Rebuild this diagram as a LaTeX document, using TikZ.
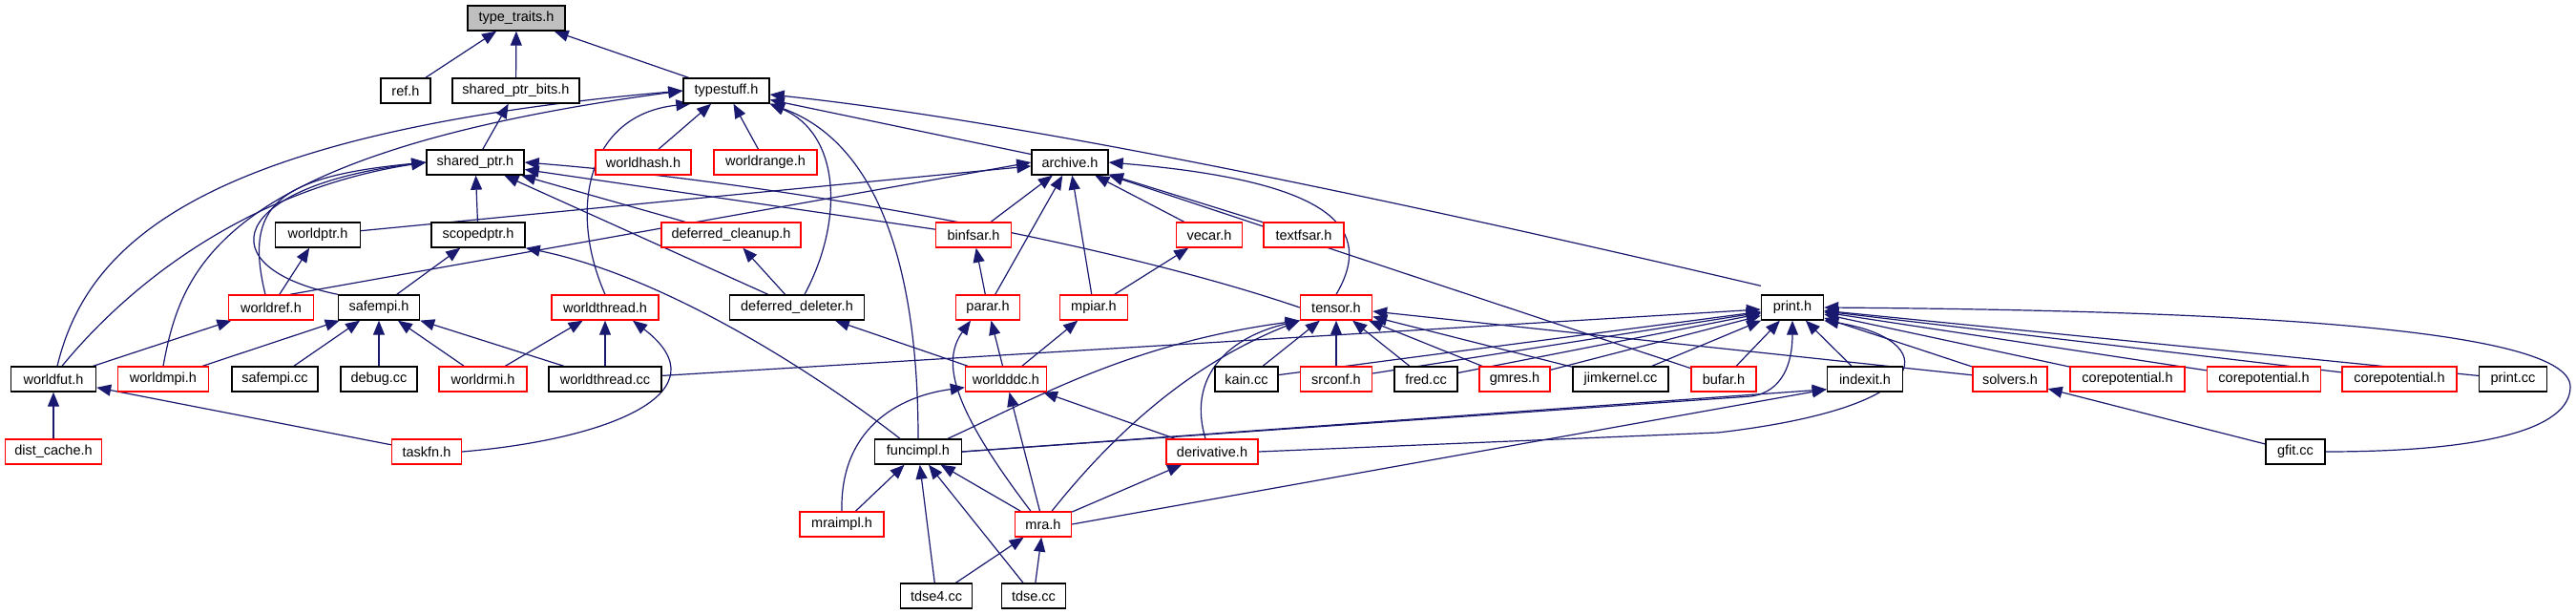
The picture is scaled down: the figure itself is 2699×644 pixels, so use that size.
\documentclass[tikz,border=0pt]{standalone}
\usepackage{fontspec}
\setmainfont{Liberation Sans}
\usetikzlibrary{arrows.meta}
\definecolor{edgeblue}{HTML}{191970}
\definecolor{nodered}{HTML}{FF0000}
\definecolor{ttgrey}{HTML}{BFBFBF}
\pgfdeclarelayer{bglayer}
\pgfdeclarelayer{edgelayer}
\pgfsetlayers{bglayer,edgelayer,main}
\begin{document}
\begin{tikzpicture}[x=1pt,y=-1pt,
  fbox/.style={draw=black, line width=1.4pt, minimum height=26pt, inner sep=0pt, font=\fontsize{14.5}{16}\selectfont, fill=white},
  rbox/.style={fbox, draw=nodered},
  conn/.style={draw=edgeblue, line width=1.2pt, -{Triangle[length=15pt,width=12pt]}},
]
\begin{pgfonlayer}{bglayer}
\fill[white] (0,0) rectangle (2699,644);
\end{pgfonlayer}
\useasboundingbox (0,0) rectangle (2699,644);
% nodes
\node[fbox, fill=ttgrey, minimum width=102pt] (tt) at (541,19) {type\_traits.h};
\node[fbox, minimum width=52pt] (ref) at (425,95) {ref.h};
\node[fbox, minimum width=133pt] (spb) at (540.5,95) {shared\_ptr\_bits.h};
\node[fbox, minimum width=90pt] (ts) at (761,95) {typestuff.h};
\node[fbox, minimum width=102pt] (sp) at (498,170) {shared\_ptr.h};
\node[rbox, minimum width=100pt] (wh) at (674,170) {worldhash.h};
\node[rbox, minimum width=108pt] (wr) at (802,170) {worldrange.h};
\node[fbox, minimum width=80pt] (ar) at (1121,170) {archive.h};
\node[fbox, minimum width=89pt] (wp) at (333,246) {worldptr.h};
\node[fbox, minimum width=98pt] (sc) at (501,246) {scopedptr.h};
\node[rbox, minimum width=146pt] (dc) at (766,246) {deferred\_cleanup.h};
\node[rbox, minimum width=79pt] (bf) at (1020,246) {binfsar.h};
\node[rbox, minimum width=69pt] (vc) at (1267,246) {vecar.h};
\node[rbox, minimum width=84pt] (tf) at (1366,246) {textfsar.h};
\node[rbox, minimum width=89pt] (wref) at (284,322) {worldref.h};
\node[fbox, minimum width=85pt] (sm) at (397,322) {safempi.h};
\node[rbox, minimum width=112pt] (wt) at (634,322) {worldthread.h};
\node[fbox, minimum width=141pt] (dd) at (835,322) {deferred\_deleter.h};
\node[rbox, minimum width=67pt] (pa) at (1035,322) {parar.h};
\node[rbox, minimum width=71pt] (mp) at (1146,322) {mpiar.h};
\node[rbox, minimum width=75pt] (tn) at (1400,322) {tensor.h};
\node[fbox, minimum width=65pt] (pr) at (1878,322) {print.h};
\node[fbox, minimum width=89pt] (wf) at (56,397) {worldfut.h};
\node[rbox, minimum width=95pt] (wm) at (171,397) {worldmpi.h};
\node[fbox, minimum width=90pt] (smc) at (288,397) {safempi.cc};
\node[fbox, minimum width=80pt] (dbg) at (397,397) {debug.cc};
\node[rbox, minimum width=92pt] (wrmi) at (506,397) {worldrmi.h};
\node[fbox, minimum width=118pt] (wtc) at (634,397) {worldthread.cc};
\node[rbox, minimum width=85pt] (wd) at (1054,397) {worldddc.h};
\node[fbox, minimum width=66pt] (kn) at (1306,397) {kain.cc};
\node[rbox, minimum width=75pt] (src) at (1400,397) {srconf.h};
\node[fbox, minimum width=66pt] (fr) at (1494,397) {fred.cc};
\node[rbox, minimum width=74pt] (gm) at (1587,397) {gmres.h};
\node[fbox, minimum width=100pt] (jk) at (1698,397) {jimkernel.cc};
\node[rbox, minimum width=68pt] (bu) at (1806,397) {bufar.h};
\node[fbox, minimum width=79pt] (ix) at (1954,397) {indexit.h};
\node[rbox, minimum width=78pt] (sv) at (2106,397) {solvers.h};
\node[rbox, minimum width=120pt] (cpa) at (2229,397) {corepotential.h};
\node[rbox, minimum width=119pt] (cpb) at (2372,397) {corepotential.h};
\node[rbox, minimum width=120pt] (cpc) at (2514,397) {corepotential.h};
\node[fbox, minimum width=71pt] (pc) at (2633,397) {print.cc};
\node[rbox, minimum width=101pt] (dcache) at (56,473) {dist\_cache.h};
\node[rbox, minimum width=73pt] (tk) at (447,473) {taskfn.h};
\node[fbox, minimum width=91pt] (fi) at (962,473) {funcimpl.h};
\node[rbox, minimum width=96pt] (dv) at (1270,473) {derivative.h};
\node[fbox, minimum width=62pt] (gf) at (2405,473) {gfit.cc};
\node[rbox, minimum width=88pt] (mi) at (882,549) {mraimpl.h};
\node[rbox, minimum width=59pt] (mra) at (1093,549) {mra.h};
\node[fbox, minimum width=75pt] (t4) at (981,624) {tdse4.cc};
\node[fbox, minimum width=67pt] (td) at (1083,624) {tdse.cc};
% ---------- edges ----------
\begin{pgfonlayer}{edgelayer}
\draw[conn] (ref) -- (tt);
\draw[conn] (spb) -- (tt);
\draw[conn] (ts) -- (tt);
\draw[conn] (sp) -- (spb);
% typestuff.h
\draw[conn] (wh) -- (ts);
\draw[conn] (wr) -- (ts);
\draw[conn] (ar) -- (ts);
\draw[conn] ([yshift=9pt]pr.north west) .. controls (1550,230) and (1100,130) .. ([yshift=-4pt]ts.east);
\draw[conn] (wt.north) .. controls (595,220) and (615,120) .. (ts.200);
\draw[conn] ([xshift=8pt]dd.north) .. controls (885,230) and (880,140) .. (ts.south east);
\draw[conn] (fi.north) .. controls (962,280) and (920,150) .. (ts.south east);
\draw[conn] ([xshift=4pt]wf.north) .. controls (90,260) and (200,140) .. (ts.west);
\draw[conn] (wm.north) .. controls (190,280) and (230,160) .. (ts.west);
% shared_ptr.h
\draw[conn] ([xshift=9pt]wf.north) .. controls (150,280) and (280,195) .. (sp.west);
\draw[conn] ([xshift=-6pt]wref.north) .. controls (255,215) and (290,185) .. (sp.west);
\draw[conn] (sm.north west) .. controls (215,280) and (240,195) .. (sp.west);
\draw[conn] (sc) -- (sp);
\draw[conn] (dc) -- (sp);
\draw[conn] (dd) -- (sp);
\draw[conn] (bf) -- (sp);
\draw[conn] (tn.west) .. controls (1150,250) and (800,190) .. (sp.east);
% archive.h
\draw[conn] (wp) -- (ar);
\draw[conn] ([xshift=20pt]wref.north) -- (ar.west);
\draw[conn] (bf) -- (ar);
\draw[conn] (pa) -- (ar);
\draw[conn] (mp) -- (ar);
\draw[conn] (vc) -- (ar);
\draw[conn] (tf) -- (ar);
\draw[conn] (tn.north) .. controls (1440,240) and (1400,190) .. (ar.east);
\draw[conn] (bu) -- (ar);
% print.h
\draw[conn] (wtc) -- (pr);
\draw[conn] (kn) -- (pr);
\draw[conn] (src) -- (pr);
\draw[conn] (fr) -- (pr);
\draw[conn] (gm) -- (pr);
\draw[conn] (jk) -- (pr);
\draw[conn] (bu) -- (pr);
\draw[conn] (ix) -- (pr);
\draw[conn] (sv) -- (pr);
\draw[conn] (cpa) -- (pr);
\draw[conn] (cpb) -- (pr);
\draw[conn] (cpc) -- (pr);
\draw[conn] (pc) -- (pr);
\draw[conn] (gf.east) .. controls (2600,473) and (2693,450) .. (2693,405) .. controls (2693,340) and (2300,325) .. (pr.east);
\draw[conn] (fi.east) -- (1835,415) .. controls (1868,410) and (1878,380) .. (pr.south);
\draw[conn] (dv.east) -- (1800,453) .. controls (2040,425) and (2030,355) .. (pr.south east);
% indexit.h
\draw[conn] (fi.east) -- ([yshift=3pt]ix.south west);
\draw[conn] (mra.east) -- ([yshift=3pt]ix.south west);
% tensor.h
\draw[conn] (kn) -- (tn);
\draw[conn] (src) -- (tn);
\draw[conn] (fr) -- (tn);
\draw[conn] (gm) -- (tn);
\draw[conn] (jk) -- (tn);
\draw[conn] (sv) -- (tn);
\draw[conn] ([xshift=31pt]fi.north) .. controls (1080,420) and (1180,360) .. (tn.south west);
\draw[conn] ([xshift=9pt]mra.north) .. controls (1170,450) and (1250,380) .. (tn.south west);
\draw[conn] ([xshift=-7pt]dv.north) .. controls (1245,400) and (1280,355) .. (tn.south west);
% worldddc.h
\draw[conn] (wd) -- (dd);
\draw[conn] (wd) -- (pa);
\draw[conn] (wd) -- (mp);
\draw[conn] (mi.north) .. controls (880,450) and (940,415) .. ([yshift=5pt]wd.south west);
\draw[conn] (mra) -- (wd);
\draw[conn] (dv) -- (wd);
\draw[conn] ([xshift=-13pt]mra.north) .. controls (1000,430) and (985,380) .. ([xshift=-18pt]pa.south);
% funcimpl.h
\draw[conn] (mi) -- (fi);
\draw[conn] (t4) -- (fi);
\draw[conn] (td) -- (fi);
\draw[conn] (mra) -- (fi);
\draw[conn] (t4) -- (mra);
\draw[conn] (td) -- (mra);
\draw[conn] (mra) -- (dv);
\draw[conn] ([xshift=-19pt]fi.north) .. controls (860,395) and (700,290) .. (sc.south east);
\draw[conn] (sm) -- (sc);
% safempi.h
\draw[conn] (wm) -- (sm);
\draw[conn] (smc) -- (sm);
\draw[conn] (dbg) -- (sm);
\draw[conn] (wrmi) -- (sm);
\draw[conn] (wtc) -- (sm);
% worldthread.h
\draw[conn] (wrmi) -- (wt);
\draw[conn] (wtc) -- (wt);
\draw[conn] (tk.east) .. controls (640,460) and (760,410) .. ([xshift=29pt]wt.south);
% worldfut.h etc.
\draw[conn] (dcache) -- (wf);
\draw[conn] (tk) -- (wf);
\draw[conn] (wf) -- (wref);
\draw[conn] (wref) -- (wp);
\draw[conn] (dd) -- (dc);
\draw[conn] (pa) -- (bf);
\draw[conn] (mp) -- (vc);
\draw[conn] (gf) -- (sv);
\end{pgfonlayer}
\end{tikzpicture}
\end{document}
